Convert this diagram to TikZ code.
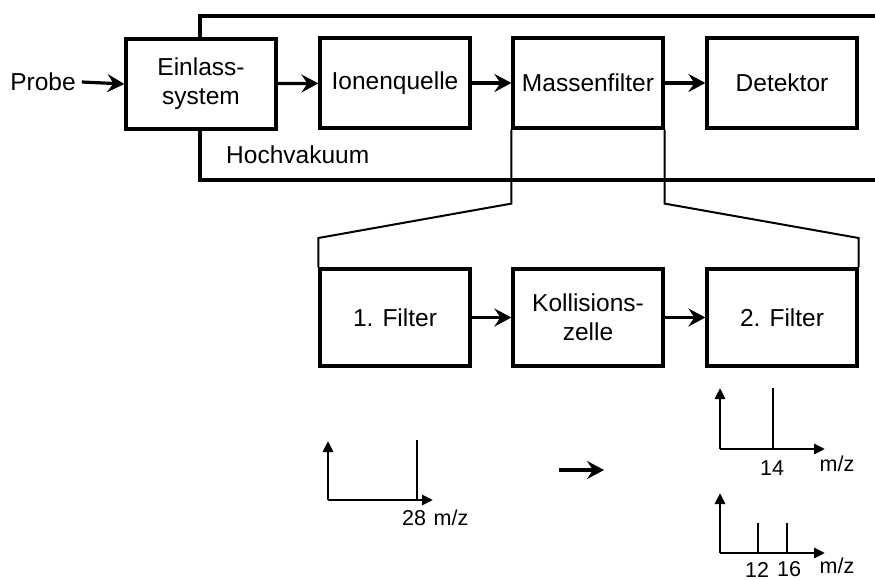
\documentclass[tikz,border=0pt]{standalone}
\usepackage{fontspec}
\setmainfont{Liberation Sans}
\usetikzlibrary{arrows.meta}
\tikzset{
  blk/.style={draw, line width=3.2pt, minimum width=150pt, inner sep=0pt, align=center,
    font=\fontsize{24.5}{29}\selectfont},
  upblk/.style={blk, minimum height=90pt},
  lowblk/.style={blk, minimum height=97pt},
  flow/.style={line width=3.2pt, -{Stealth[length=17pt,width=18pt,inset=6pt]}},
  frame/.style={line width=3.2pt},
  thin/.style={line width=2pt},
  axis/.style={line width=2.8pt, -{Triangle[length=11pt,width=10pt]}},
  peak/.style={line width=2.8pt},
  lbl/.style={inner sep=0pt, font=\fontsize{24.5}{29}\selectfont},
  slbl/.style={inner sep=0pt, font=\fontsize{21.5}{25}\selectfont}
}
\begin{document}
\begin{tikzpicture}[x=1pt,y=-1pt]
\useasboundingbox (0,0) rectangle (875,580);
% upper row
\node[upblk] (ein) at (201,84) {Einlass-\\system};
\node[upblk] (ion) at (395,83) {Ionenquelle};
\node[upblk] (mas) at (588,83) {Massenfilter};
\node[upblk] (det) at (782,83) {Detektor};
\node[lbl] (probe) at (43,82) {Probe};
\node[lbl, anchor=west] (hv) at (226,155) {Hochvakuum};
% vacuum frame
\coordinate (ftr) at (875,16);
\coordinate (fbr) at (875,180);
\draw[frame] (ftr) -- (200,16) -- (ein.north -| 200,0);
\draw[frame] (ein.south -| 200,0) -- (200,180) -- (fbr);
% flow arrows
\draw[flow] (probe.east) ++(6,0) -- (ein.west);
\draw[flow] (ein) -- (ion);
\draw[flow] (ion) -- (mas);
\draw[flow] (mas) -- (det);
% lower row
\node[lowblk] (f1) at (395,317.5) {1. Filter};
\node[lowblk] (kz) at (588,317.5) {Kollisions-\\zelle};
\node[lowblk] (f2) at (782,317.5) {2. Filter};
\draw[flow] (f1) -- (kz);
\draw[flow] (kz) -- (f2);
% zoom lines
\draw[thin] (mas.south west) -- ++(0,74) -- (f1.north west |- 0,238) -- (f1.north west);
\draw[thin] (mas.south east) -- ++(0,74) -- (f2.north east |- 0,238) -- (f2.north east);
% spectrum 28
\coordinate (a0) at (328,500);
\draw[axis] (a0) -- (328,441);
\draw[axis] (a0) -- (433,500);
\draw[peak] (417,500) -- (417,440);
\node[slbl] (l28) at (414,518) {28};
\node[slbl] (lmz1) at (451,518) {m/z};
% middle arrow
\coordinate (ma) at (559,470);
\coordinate (mb) at (604,470);
\draw[flow] (ma) -- (mb);
% spectrum 14
\coordinate (b0) at (720,449);
\draw[axis] (b0) -- (720,388);
\draw[axis] (b0) -- (825,449);
\draw[peak] (773,449) -- (773,388);
\node[slbl] (l14) at (772,468) {14};
\node[slbl] (lmz2) at (837,464) {m/z};
% spectrum 12 16
\coordinate (c0) at (720,553);
\draw[axis] (c0) -- (720,493);
\draw[axis] (c0) -- (825,553);
\draw[peak] (758,553) -- (758,523);
\draw[peak] (787,553) -- (787,523);
\node[slbl] (l12) at (757,569.5) {12};
\node[slbl] (l16) at (789,569.5) {16};
\node[slbl] (lmz3) at (837,566) {m/z};
\end{tikzpicture}
\end{document}
